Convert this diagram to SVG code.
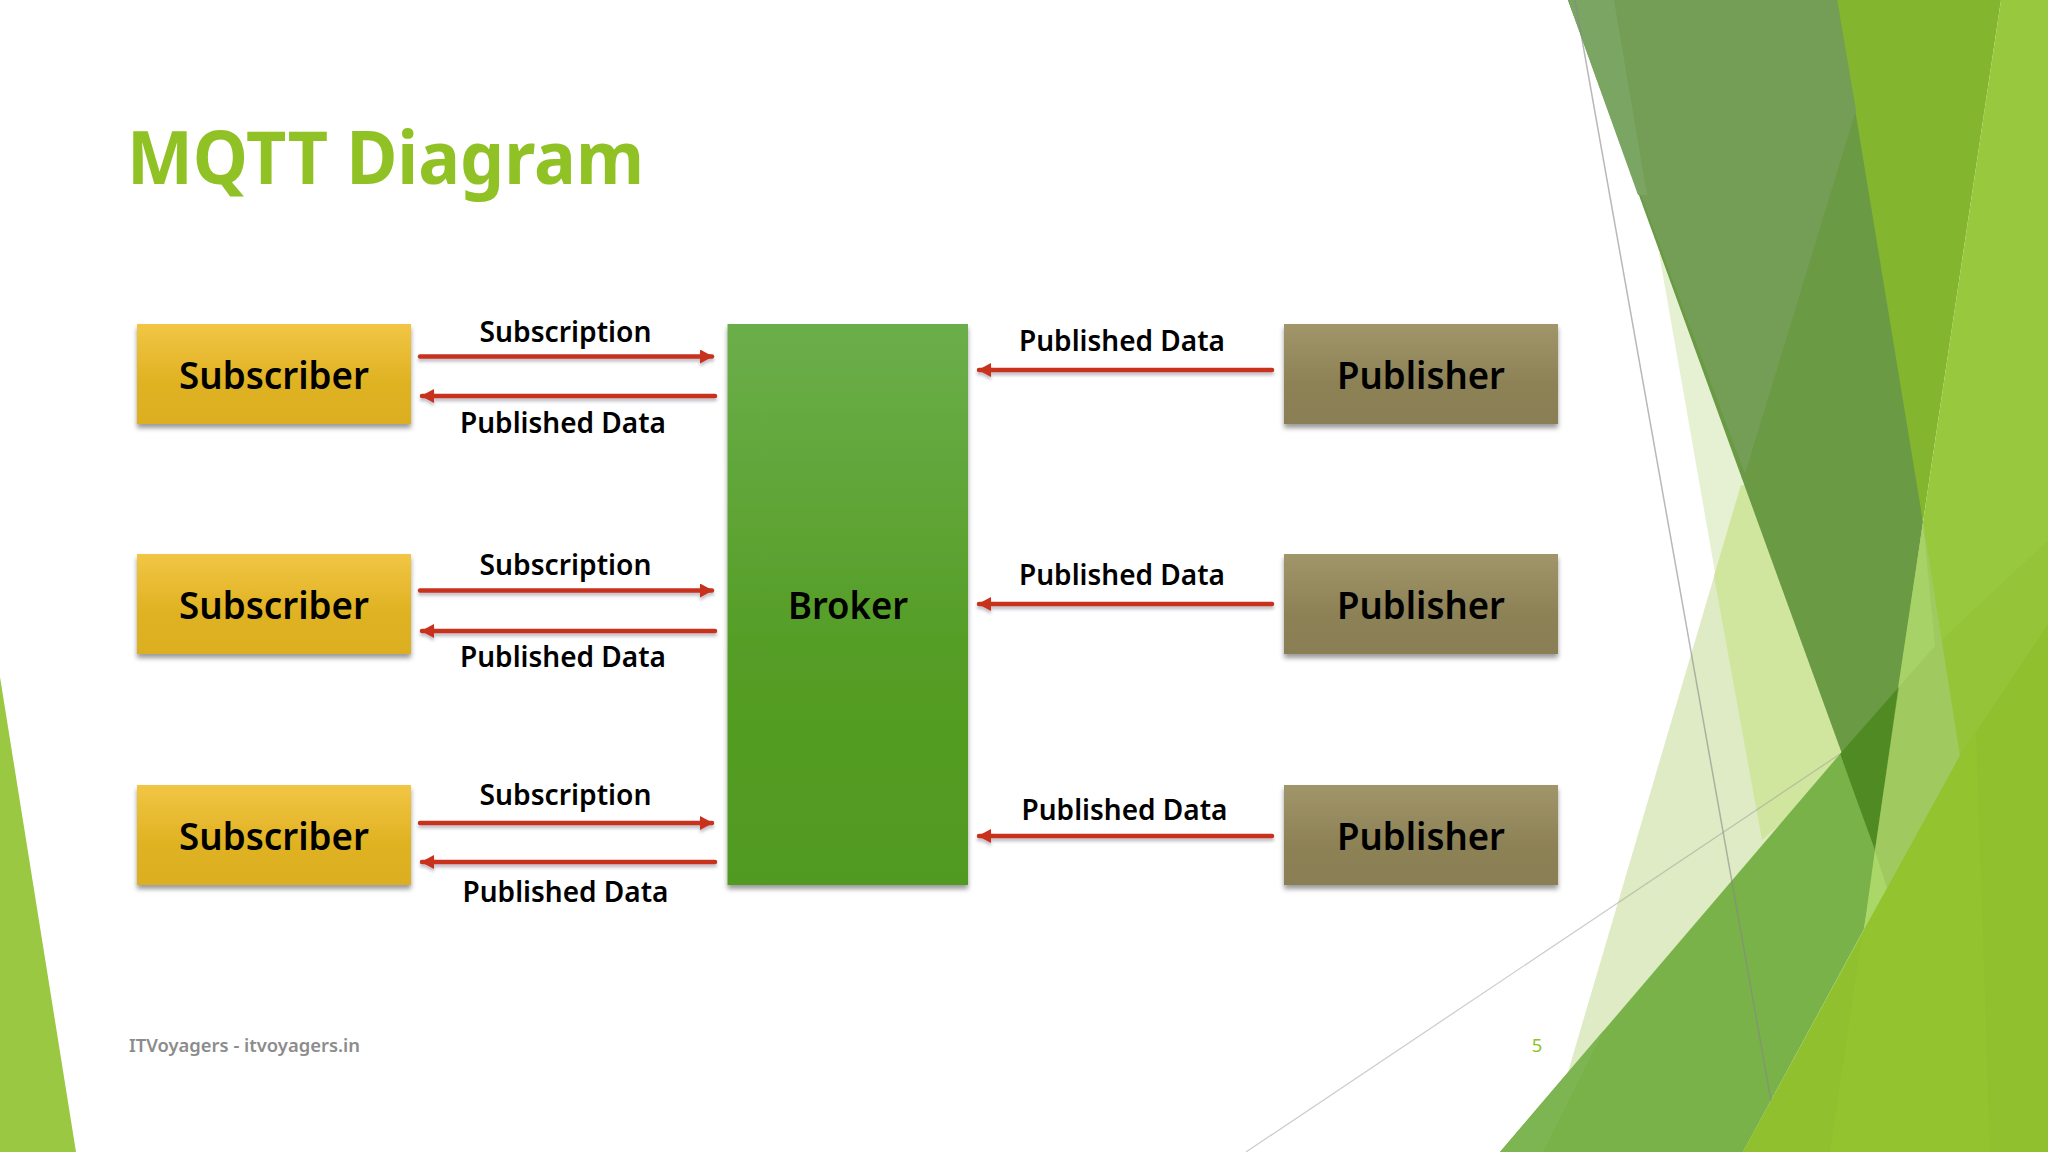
<svg xmlns="http://www.w3.org/2000/svg" width="2048" height="1152" viewBox="0 0 2048 1152">
<style>
.lbl{font-family:"Noto Sans","DejaVu Sans",sans-serif;font-weight:600;fill:#000;text-anchor:middle}
.edge{font-size:29px}
.node{font-size:38px}
.box{filter:url(#sh)}
.arr{stroke:#c8321f;stroke-width:4.5;stroke-linecap:round;fill:none}
.to{marker-end:url(#ah)}
</style>
<defs>
<linearGradient id="gs" x1="0" y1="0" x2="0" y2="1"><stop offset="0" stop-color="#f2c545"/><stop offset=".6" stop-color="#dfb222"/><stop offset="1" stop-color="#dcaf20"/></linearGradient>
<linearGradient id="gp" x1="0" y1="0" x2="0" y2="1"><stop offset="0" stop-color="#a1956a"/><stop offset=".6" stop-color="#8d8156"/><stop offset="1" stop-color="#8a7e54"/></linearGradient>
<linearGradient id="gb" x1="0" y1="0" x2="0" y2="1"><stop offset="0" stop-color="#6bae4b"/><stop offset=".6" stop-color="#549d25"/><stop offset="1" stop-color="#519a20"/></linearGradient>
<filter id="sh" x="-5%" y="-5%" width="110%" height="115%"><feDropShadow dx="0" dy="4" stdDeviation="2.5" flood-color="#000" flood-opacity=".4"/></filter>
<filter id="sh2" filterUnits="userSpaceOnUse" x="400" y="330" width="900" height="560"><feDropShadow dx="0" dy="3" stdDeviation="1.5" flood-color="#334" flood-opacity=".3"/></filter>
<marker id="ah" markerUnits="userSpaceOnUse" markerWidth="14" markerHeight="16" refX="12" refY="7" orient="auto"><path d="M0 0L13 7L0 14Z" fill="#c8321f"/></marker>
</defs>
<rect width="2048" height="1152" fill="#fff"/>
<g id="background">
<polygon points="0,677 0,1152 76,1152" fill="#9ac843"/>
<polygon points="1659,253 1700,253 1860,754 1762,840" fill="#e6f1d4"/>
<polygon points="1741,485 1780,485 1860,754 1500,1152 1568,1072" fill="#dfebc4"/>
<polygon points="1714,576 1741,485 1780,485 1860,754 1762,840" fill="#d0e69f"/>
<polygon points="1830,0 2001,0 1923,522 1870,300" fill="#83b52f"/>
<polygon points="2001,0 2048,0 2048,1152 1743,1152 1864,929 1875,850 1923,522" fill="#98c83e"/>
<polygon points="1935,646 2048,540 2048,640 1960,756" fill="#95c439"/>
<polygon points="1568,0 1837,0 1923,522 1877,850" fill="#6a9a44"/>
<polygon points="1568,0 1837,0 1856,110 1745,474" fill="#749e56"/>
<polygon points="1568,0 1614,0 1647,195 1638,195" fill="#7aa562"/>
<polygon points="1500,1152 1840,754 1877,850 1864,929 1743,1152" fill="#78b249"/>
<polygon points="1500,1152 1543,1152 1604,1030" fill="#7db553"/>
<polygon points="1840,754 1898,688 1875,850" fill="#4f8a22"/>
<polygon points="1923,522 1960,756 1887,888 1875,850" fill="#a0c95f"/>
<polygon points="1923,522 1935,646 1898,688" fill="#a6d268"/>
<polygon points="1875,850 1887,888 1864,929" fill="#aad768"/>
<polygon points="1743,1152 1960,756 2048,624 2048,1152" fill="#90c02d"/>
<polygon points="1830,1152 1862,936 1960,756 1976,732 1990,1152" fill="#93c42f"/>
<line x1="1575" y1="0" x2="1771" y2="1101" stroke="#888" stroke-opacity=".6" stroke-width="1.5"/>
<line x1="1246" y1="1152" x2="1840" y2="754" stroke="#999" stroke-opacity=".5" stroke-width="1.2"/>
</g>
<text x="127" y="184" font-family="Noto Sans,sans-serif" font-weight="700" font-size="74" fill="#90c226" textLength="517" lengthAdjust="spacingAndGlyphs">MQTT Diagram</text>
<g id="connectors" filter="url(#sh2)">
<line class="arr to" x1="420" y1="356.500" x2="712" y2="356.500"/>
<line class="arr to" x1="715" y1="396" x2="422" y2="396"/>
<line class="arr to" x1="420" y1="590.500" x2="712" y2="590.500"/>
<line class="arr to" x1="715" y1="631" x2="422" y2="631"/>
<line class="arr to" x1="420" y1="823" x2="712" y2="823"/>
<line class="arr to" x1="715" y1="862" x2="422" y2="862"/>
<line class="arr to" x1="1272" y1="370" x2="979" y2="370"/>
<line class="arr to" x1="1272" y1="604" x2="979" y2="604"/>
<line class="arr to" x1="1272" y1="836" x2="979" y2="836"/>
</g>
<g id="edge-labels">
<text class="lbl edge" x="565.500" y="342" textLength="172" lengthAdjust="spacingAndGlyphs">Subscription</text>
<text class="lbl edge" x="563" y="433" textLength="206" lengthAdjust="spacingAndGlyphs">Published Data</text>
<text class="lbl edge" x="565.500" y="575" textLength="172" lengthAdjust="spacingAndGlyphs">Subscription</text>
<text class="lbl edge" x="563" y="667" textLength="206" lengthAdjust="spacingAndGlyphs">Published Data</text>
<text class="lbl edge" x="565.500" y="805" textLength="172" lengthAdjust="spacingAndGlyphs">Subscription</text>
<text class="lbl edge" x="565.500" y="902" textLength="206" lengthAdjust="spacingAndGlyphs">Published Data</text>
<text class="lbl edge" x="1122" y="351" textLength="206" lengthAdjust="spacingAndGlyphs">Published Data</text>
<text class="lbl edge" x="1122" y="585" textLength="206" lengthAdjust="spacingAndGlyphs">Published Data</text>
<text class="lbl edge" x="1124.500" y="820" textLength="206" lengthAdjust="spacingAndGlyphs">Published Data</text>
</g>
<g id="sub1"><rect class="box" x="137" y="324" width="274" height="100" fill="url(#gs)"/><text class="lbl node" x="274" y="389" textLength="190" lengthAdjust="spacingAndGlyphs">Subscriber</text></g>
<g id="sub2"><rect class="box" x="137" y="554" width="274" height="100" fill="url(#gs)"/><text class="lbl node" x="274" y="619" textLength="190" lengthAdjust="spacingAndGlyphs">Subscriber</text></g>
<g id="sub3"><rect class="box" x="137" y="785" width="274" height="100" fill="url(#gs)"/><text class="lbl node" x="274" y="850" textLength="190" lengthAdjust="spacingAndGlyphs">Subscriber</text></g>
<g id="broker"><rect class="box" x="727.500" y="324" width="240.500" height="561" fill="url(#gb)"/><text class="lbl node" x="848" y="619" textLength="120" lengthAdjust="spacingAndGlyphs">Broker</text></g>
<g id="pub1"><rect class="box" x="1284" y="324" width="274" height="100" fill="url(#gp)"/><text class="lbl node" x="1421" y="389" textLength="168" lengthAdjust="spacingAndGlyphs">Publisher</text></g>
<g id="pub2"><rect class="box" x="1284" y="554" width="274" height="100" fill="url(#gp)"/><text class="lbl node" x="1421" y="619" textLength="168" lengthAdjust="spacingAndGlyphs">Publisher</text></g>
<g id="pub3"><rect class="box" x="1284" y="785" width="274" height="100" fill="url(#gp)"/><text class="lbl node" x="1421" y="850" textLength="168" lengthAdjust="spacingAndGlyphs">Publisher</text></g>
<text x="129" y="1052" font-family="Noto Sans,sans-serif" font-weight="600" font-size="18.500" fill="#8c8c8c" textLength="231" lengthAdjust="spacingAndGlyphs">ITVoyagers - itvoyagers.in</text>
<text x="1537" y="1052" font-family="Noto Sans,sans-serif" font-size="18.500" fill="#90c226" text-anchor="middle">5</text>
</svg>
